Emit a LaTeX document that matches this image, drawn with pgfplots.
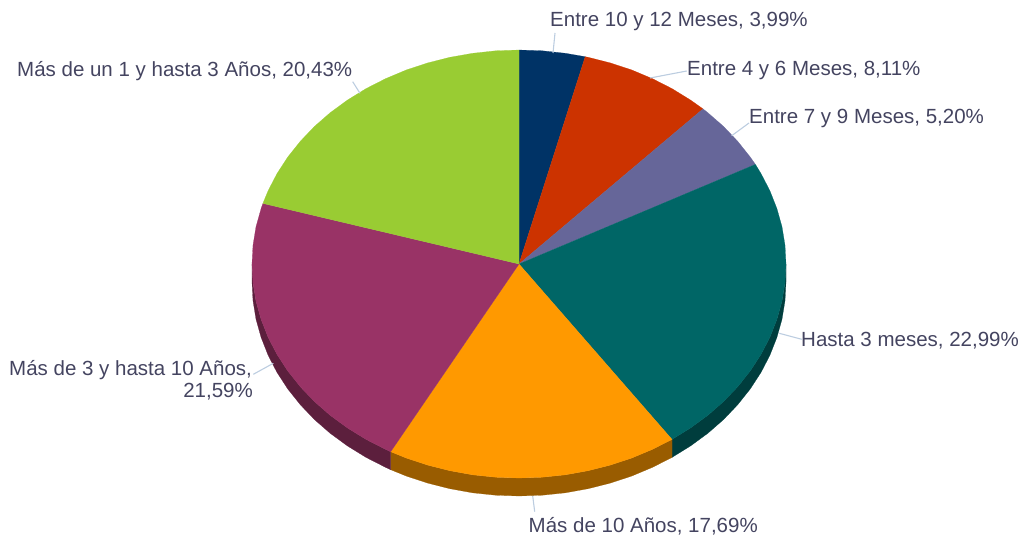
\documentclass[border=0pt]{standalone}
\usepackage{fontspec}
\setmainfont{Liberation Sans}
\usepackage{pgfplots}
\pgfplotsset{compat=1.18}

\definecolor{navy}{HTML}{003366}
\definecolor{rust}{HTML}{CC3300}
\definecolor{slate}{HTML}{666699}
\definecolor{teal1}{HTML}{006666}
\definecolor{teal2}{HTML}{003D3D}
\definecolor{amber1}{HTML}{FF9900}
\definecolor{amber2}{HTML}{995C00}
\definecolor{plum1}{HTML}{993366}
\definecolor{plum2}{HTML}{5C1F3D}
\definecolor{lime1}{HTML}{99CC33}
\definecolor{labeltext}{HTML}{444460}
\definecolor{leader}{HTML}{BCCDE0}

\tikzset{lab/.style={anchor=base west, text=labeltext, inner sep=0pt,
    font=\fontsize{20.5}{22}\selectfont}}

% pixel coordinates of the reference: slices are 3,99 8,11 5,20 22,99 17,69 21,59 20,43
\begin{document}
\begin{tikzpicture}
\begin{axis}[
  width=1022pt, height=538pt, scale only axis,
  xmin=0, xmax=1022, ymin=0, ymax=538, y dir=reverse,
  hide axis, clip=false,
]
% side walls
\addplot[fill=teal2, draw=teal2, line width=0.2pt] coordinates {
  (786,264) (785,282.7) (782,301.2) (776.9,319.4) (769.9,337.2) (761,354.4)
  (750.2,371) (737.7,386.7) (723.5,401.6) (707.8,415.3) (690.6,427.9) (672,439.4)
  (672,457.4) (690.6,445.9) (707.8,433.3) (723.5,419.6) (737.7,404.7) (750.2,389)
  (761,372.4) (769.9,355.2) (776.9,337.4) (782,319.2) (785,300.7) (786,282)
} -- cycle;
\addplot[fill=amber2, draw=amber2, line width=0.2pt] coordinates {
  (672,439.4) (652.5,449.3) (631.8,458) (610.3,465.1) (588.1,470.7) (565.4,474.8)
  (542.3,477.2) (519,478) (495.7,477.2) (472.6,474.8) (449.9,470.7) (427.7,465.1)
  (406.2,458) (390.7,451.7)
  (390.7,469.7) (406.2,476) (427.7,483.1) (449.9,488.7) (472.6,492.8) (495.7,495.2)
  (519,496) (542.3,495.2) (565.4,492.8) (588.1,488.7) (610.3,483.1) (631.8,476)
  (652.5,467.3) (672,457.4)
} -- cycle;
\addplot[fill=plum2, draw=plum2, line width=0.2pt] coordinates {
  (390.7,451.7) (385.5,449.3) (365.9,439.3) (347.4,427.9) (330.2,415.3) (314.5,401.6)
  (300.3,386.7) (287.8,371) (277,354.4) (268.1,337.2) (261.1,319.4) (256,301.2)
  (253,282.7) (252,264)
  (252,282) (253,300.7) (256,319.2) (261.1,337.4) (268.1,355.2) (277,372.4)
  (287.8,389) (300.3,404.7) (314.5,419.6) (330.2,433.3) (347.4,445.9) (365.9,457.3)
  (385.5,467.3) (390.7,469.7)
} -- cycle;
% top slices
\addplot[fill=navy, draw=navy, line width=0.2pt] coordinates {
  (519,264) (519,50) (542.3,50.8) (565.4,53.3) (585.2,56.7)
} -- cycle;
\addplot[fill=rust, draw=rust, line width=0.2pt] coordinates {
  (519,264) (585.2,56.7) (588.1,57.3) (610.3,62.9) (631.8,70) (652.5,78.7)
  (672.1,88.7) (690.6,100.1) (703,108.9)
} -- cycle;
\addplot[fill=slate, draw=slate, line width=0.2pt] coordinates {
  (519,264) (703,108.9) (707.8,112.7) (723.5,126.4) (737.7,141.3) (750.2,157) (755.4,164.4)
} -- cycle;
\addplot[fill=teal1, draw=teal1, line width=0.2pt] coordinates {
  (519,264) (755.4,164.4) (761,173.6) (769.9,190.8) (776.9,208.6) (782,226.8)
  (785,245.3) (786,264) (785,282.7) (782,301.2) (776.9,319.4) (769.9,337.2)
  (761,354.4) (750.2,371) (737.7,386.7) (723.5,401.6) (707.8,415.3) (690.6,427.9)
  (672,439.4)
} -- cycle;
\addplot[fill=amber1, draw=amber1, line width=0.2pt] coordinates {
  (519,264) (672,439.4) (652.5,449.3) (631.8,458) (610.3,465.1) (588.1,470.7)
  (565.4,474.8) (542.3,477.2) (519,478) (495.7,477.2) (472.6,474.8) (449.9,470.7)
  (427.7,465.1) (406.2,458) (390.7,451.7)
} -- cycle;
\addplot[fill=plum1, draw=plum1, line width=0.2pt] coordinates {
  (519,264) (390.7,451.7) (385.5,449.3) (365.9,439.3) (347.4,427.9) (330.2,415.3)
  (314.5,401.6) (300.3,386.7) (287.8,371) (277,354.4) (268.1,337.2) (261.1,319.4)
  (256,301.2) (253,282.7) (252,264) (253,245.3) (256,226.8) (261.1,208.6) (262.9,203.4)
} -- cycle;
\addplot[fill=lime1, draw=lime1, line width=0.2pt] coordinates {
  (519,264) (262.9,203.4) (268.1,190.8) (277,173.6) (287.8,157) (300.3,141.3)
  (314.5,126.4) (330.2,112.7) (347.4,100.1) (365.9,88.7) (385.5,78.7) (406.2,70)
  (427.7,62.9) (449.9,57.3) (472.6,53.3) (495.7,50.8) (519,50)
} -- cycle;
% leader lines
\addplot[leader, line width=1.1pt] coordinates {(555,33) (553,53)};
\addplot[leader, line width=1.1pt] coordinates {(686.7,71) (650,78)};
\addplot[leader, line width=1.1pt] coordinates {(749,123) (731.7,135.7)};
\addplot[leader, line width=1.1pt] coordinates {(801.7,339.3) (779.3,333.3)};
\addplot[leader, line width=1.1pt] coordinates {(532.7,496) (534.7,511.7)};
\addplot[leader, line width=1.1pt] coordinates {(253.3,374.3) (273.3,363.3)};
\addplot[leader, line width=1.1pt] coordinates {(352.7,81.7) (360,93.3)};
% labels
\node[lab] at (axis cs:550,26) {Entre 10 y 12 Meses, 3,99\%};
\node[lab] at (axis cs:687,75) {Entre 4 y 6 Meses, 8,11\%};
\node[lab] at (axis cs:749,123.5) {Entre 7 y 9 Meses, 5,20\%};
\node[lab] at (axis cs:801,346.5) {Hasta 3 meses, 22,99\%};
\node[lab] at (axis cs:528.5,532.5) {Más de 10 Años, 17,69\%};
\node[lab] at (axis cs:9,375) {Más de 3 y hasta 10 Años,};
\node[lab, anchor=base east] at (axis cs:253,397) {21,59\%};
\node[lab] at (axis cs:17,76.5) {Más de un 1 y hasta 3 Años, 20,43\%};
% hold the page to the full 1022x538 frame
\path (axis cs:0,0) rectangle (axis cs:1022,538);
\end{axis}
\end{tikzpicture}
\end{document}
